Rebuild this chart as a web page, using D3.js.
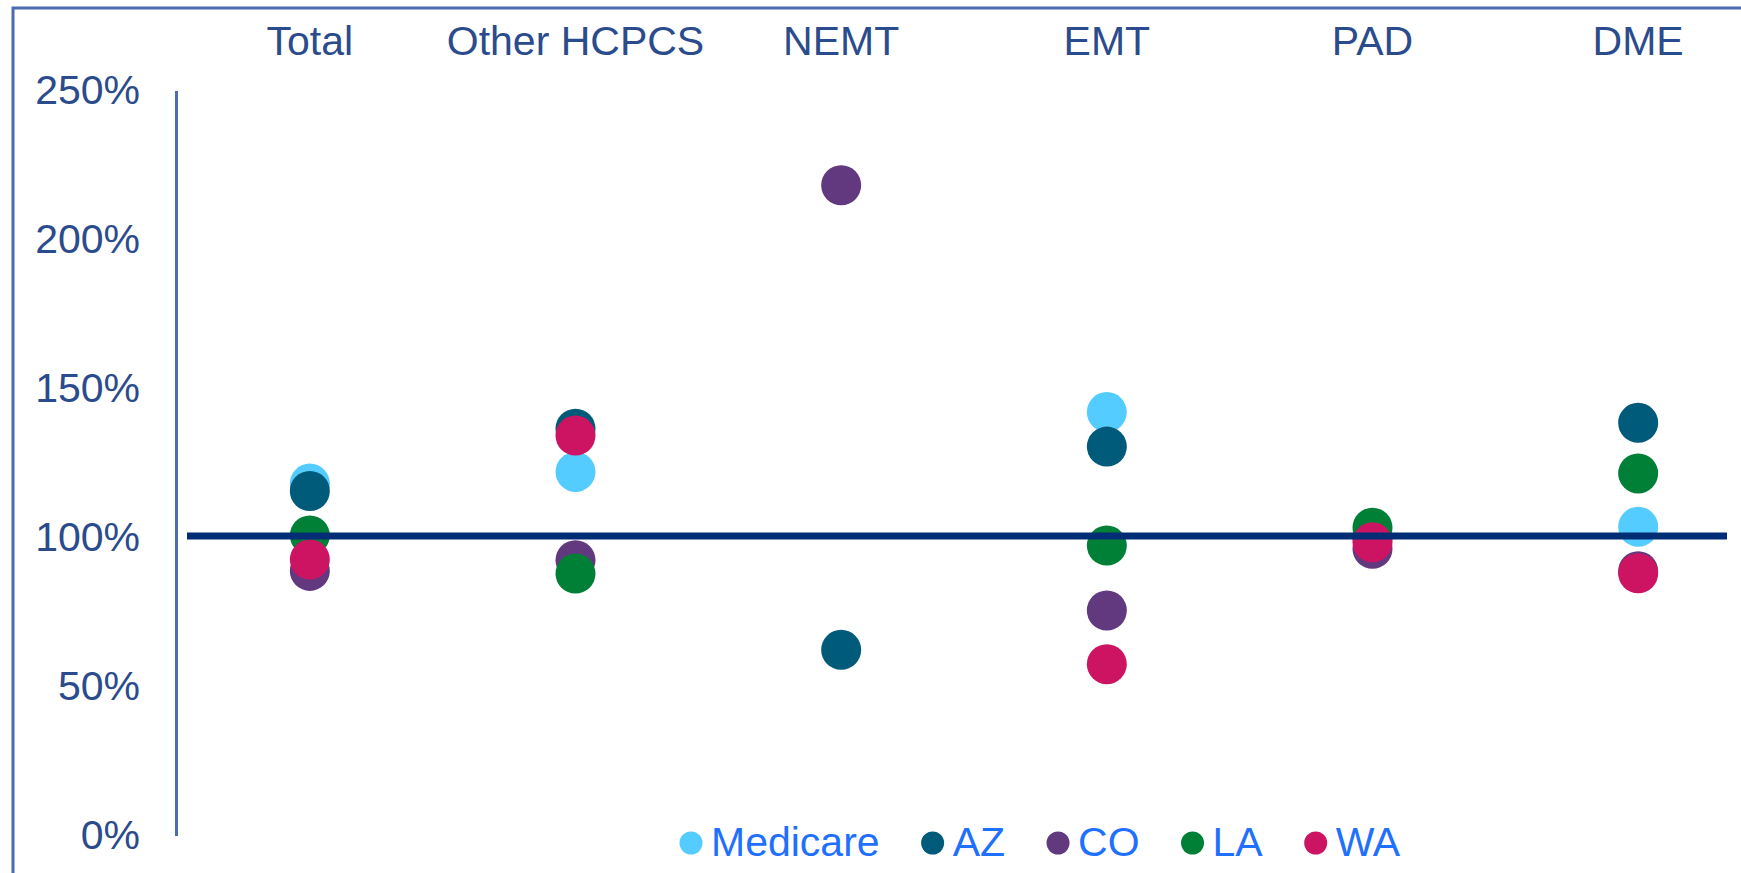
<!DOCTYPE html>
<html>
<head>
<meta charset="utf-8">
<script src="https://cdn.jsdelivr.net/npm/d3@7"></script>
<style>
  html, body { margin: 0; padding: 0; background: #fff; overflow: hidden; }
  svg { display: block; font-family: "Liberation Sans", Arial, sans-serif; }
</style>
</head>
<body>
<svg id="chart"></svg>
<script>
// categories along the top, values in percent
const categories = ["Total", "Other HCPCS", "NEMT", "EMT", "PAD", "DME"];
const seriesNames = ["Medicare", "AZ", "CO", "LA", "WA"];
const seriesColors = ["#55ccff", "#005a7a", "#62387f", "#008037", "#cd1462"];

const medicare = [118.1, 122.0, null, 142.1, 100.0, 103.6];
const az       = [115.6, 136.5, 62.3, 130.5, 100.0, 138.5];
const co       = [88.8, 92.4, 218.2, 75.5, 96.2, 88.7];
const la       = [100.7, 87.9, null, 97.3, 103.3, 121.5];
const wa       = [92.6, 134.2, null, 57.5, 98.4, 88.0];

const yTicks = [0, 50, 100, 150, 200, 250];
const refValue = 100;

const allSeries = [medicare, az, co, la, wa];

const width = 1741, height = 873;
const textColor = "#2b4c8c";
const lineColor = "#4b6cb0";

const svg = d3.select("#chart")
    .attr("width", width)
    .attr("height", height);

// frame (only left + top show inside the picture)
svg.append("rect")
    .attr("x", 13)
    .attr("y", 8)
    .attr("width", width + 20)
    .attr("height", height + 20)
    .attr("fill", "none")
    .attr("stroke", lineColor)
    .attr("stroke-width", 3);

const x = d3.scaleBand()
    .domain(categories)
    .range([177, 1771])
    .padding(0);

const y = d3.scaleLinear()
    .domain([0, 250])
    .range([835.5, 90.5]);

// y axis
const yAxis = d3.axisLeft(y)
    .tickValues(yTicks)
    .tickFormat(d => d + "%")
    .tickSize(0)
    .tickSizeOuter(0)
    .tickPadding(36);

const gy = svg.append("g")
    .attr("transform", "translate(176,0)")
    .call(yAxis);

gy.select(".domain")
    .attr("stroke", lineColor)
    .attr("stroke-width", 3);

gy.selectAll("text")
    .attr("fill", textColor)
    .attr("font-size", 41);

// category labels at top
svg.append("g")
    .selectAll("text")
    .data(categories)
    .join("text")
    .attr("x", d => x(d) + x.bandwidth() / 2)
    .attr("y", 55)
    .attr("text-anchor", "middle")
    .attr("fill", textColor)
    .attr("font-size", 41)
    .text(d => d);

// dots, series drawn in order so WA ends on top
const points = [];
allSeries.forEach(function(vals, s) {
    vals.forEach(function(v, i) {
        if (v != null) points.push({ cat: categories[i], value: v, s: s });
    });
});

svg.append("g")
    .selectAll("circle")
    .data(points)
    .join("circle")
    .attr("cx", d => x(d.cat) + x.bandwidth() / 2)
    .attr("cy", d => y(d.value))
    .attr("r", 20)
    .attr("fill", d => seriesColors[d.s]);

// 100% reference line
svg.append("line")
    .attr("x1", 187)
    .attr("x2", 1727)
    .attr("y1", y(refValue) - 1.5)
    .attr("y2", y(refValue) - 1.5)
    .attr("stroke", "#002d74")
    .attr("stroke-width", 7);

// legend
const legend = svg.append("g");
let lx = 691;
seriesNames.forEach(function(name, i) {
    legend.append("circle")
        .attr("cx", lx)
        .attr("cy", 843)
        .attr("r", 11.5)
        .attr("fill", seriesColors[i]);
    const t = legend.append("text")
        .attr("x", lx + 20)
        .attr("y", 856)
        .attr("fill", "#1f70ff")
        .attr("font-size", 41)
        .text(name);
    lx = lx + 20 + t.node().getComputedTextLength() + 53;
});
</script>
</body>
</html>
